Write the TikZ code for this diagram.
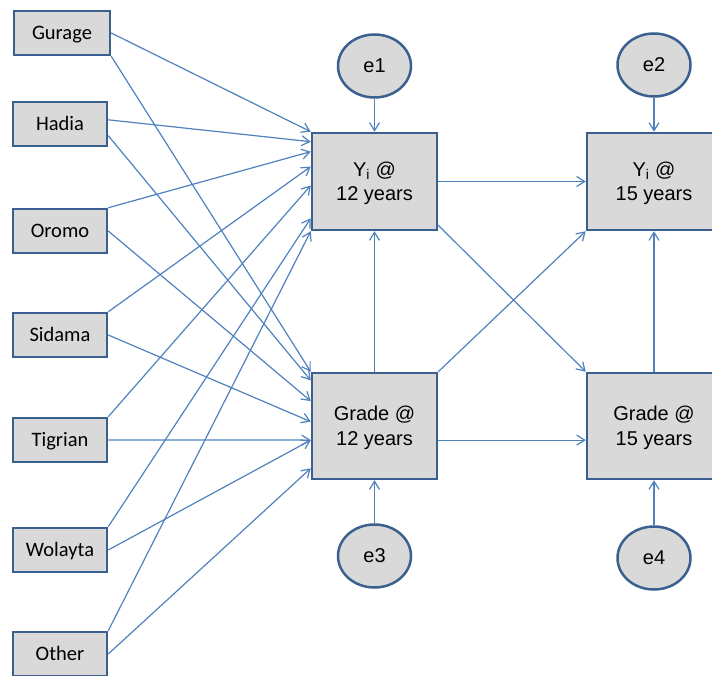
\documentclass[tikz,border=0pt]{standalone}
\usepackage{fontspec}
\setmainfont{Liberation Sans}
\newfontfamily\calibrifont{Carlito}
\usetikzlibrary{calc,arrows.meta,shapes.geometric}
\definecolor{boxline}{HTML}{3A6090}
\definecolor{boxfill}{HTML}{D9D9D9}
\definecolor{arrowcol}{HTML}{4F81BD}
\tikzset{
  ethbox/.style={draw=boxline, fill=boxfill, line width=2.5pt, minimum width=94pt, minimum height=44pt, inner sep=0pt, text height=13pt, text depth=0pt, font=\calibrifont\fontsize{20.5}{24}\selectfont},
  mainbox/.style={draw=boxline, fill=boxfill, line width=2.5pt, minimum height=97pt, inner sep=0pt, align=center, text depth=-5pt, font=\fontsize{20}{24.5}\selectfont},
  errnode/.style={ellipse, draw=boxline, fill=boxfill, line width=2.5pt, minimum width=73pt, minimum height=63pt, inner sep=0pt, font=\fontsize{20}{24}\selectfont},
  arr/.style={draw=arrowcol, line width=1.2pt, -{Straight Barb[length=8pt,width=10pt]}}
}
\begin{document}
\begin{tikzpicture}[x=1pt,y=1pt]
\useasboundingbox (0,0) rectangle (712,675);
\clip (0,0) rectangle (712,675);
% ethnic group boxes
\node[ethbox, minimum width=96pt] (gur) at (62,642) {Gurage};
\node[ethbox] (had) at (60,551) {Hadia};
\node[ethbox] (oro) at (60,444) {Oromo};
\node[ethbox] (sid) at (60,340) {Sidama};
\node[ethbox] (tig) at (60,235) {Tigrian};
\node[ethbox] (wol) at (60,125) {Wolayta};
\node[ethbox] (oth) at (60,21) {Other};
% main boxes
\node[mainbox, minimum width=125pt] (y12) at (374.5,493.5) {Y\textsubscript{i} @\\12 years};
\node[mainbox, minimum width=134pt] (y15) at (654,493.5) {Y\textsubscript{i} @\\15 years};
\node[mainbox, minimum width=125pt, minimum height=106pt] (g12) at (374.5,249) {Grade @\\12 years};
\node[mainbox, minimum width=134pt, minimum height=106pt] (g15) at (654,249) {Grade @\\15 years};
% error terms
\node[errnode] (e1) at (374.5,609) {e1};
\node[errnode] (e2) at (654,610) {e2};
\node[errnode] (e3) at (374.5,119) {e3};
\node[errnode] (e4) at (654,117) {e4};
% arrows to Y @ 12
\draw[arr] (gur.east) -- (y12.north west);
\draw[arr] ($(had.north east)!0.41!(had.south east)$) -- ($(y12.north west)!0.10!(y12.south west)$);
\draw[arr] (oro.north east) -- ($(y12.north west)!0.20!(y12.south west)$);
\draw[arr] (sid.north east) -- ($(y12.north west)!0.35!(y12.south west)$);
\draw[arr] (tig.north east) -- ($(y12.north west)!0.54!(y12.south west)$);
\draw[arr] (wol.north east) -- ($(y12.north west)!0.87!(y12.south west)$);
\draw[arr] (oth.north east) -- (y12.south west);
% arrows to Grade @ 12
\draw[arr] (gur.south east) -- (g12.north west);
\draw[arr] ($(had.north east)!0.75!(had.south east)$) -- ($(g12.north west)!0.08!(g12.south west)$);
\draw[arr] (oro.east) -- ($(g12.north west)!0.27!(g12.south west)$);
\draw[arr] (sid.east) -- ($(g12.north west)!0.46!(g12.south west)$);
\draw[arr] (tig.east) -- ($(g12.north west)!0.63!(g12.south west)$);
\draw[arr] (wol.east) -- ($(g12.north west)!0.63!(g12.south west)$);
\draw[arr] (oth.east) -- ($(g12.north west)!0.89!(g12.south west)$);
% structural arrows
\draw[arr] (e1) -- (y12.north);
\draw[arr] (e2) -- (y15.north);
\draw[arr] (e3) -- (g12.south);
\draw[arr] (e4.north) -- (g15.south);
\draw[arr] (g12.north) -- (y12.south);
\draw[arr] (g15.north) -- (y15.south);
\draw[arr] (y12.east) -- (y15.west);
\draw[arr] ($(g12.north east)!0.63!(g12.south east)$) -- ($(g15.north west)!0.63!(g15.south west)$);
\draw[arr] ($(y12.north east)!0.94!(y12.south east)$) -- (g15.north west);
\draw[arr] (g12.north east) -- (y15.south west);
\end{tikzpicture}
\end{document}
